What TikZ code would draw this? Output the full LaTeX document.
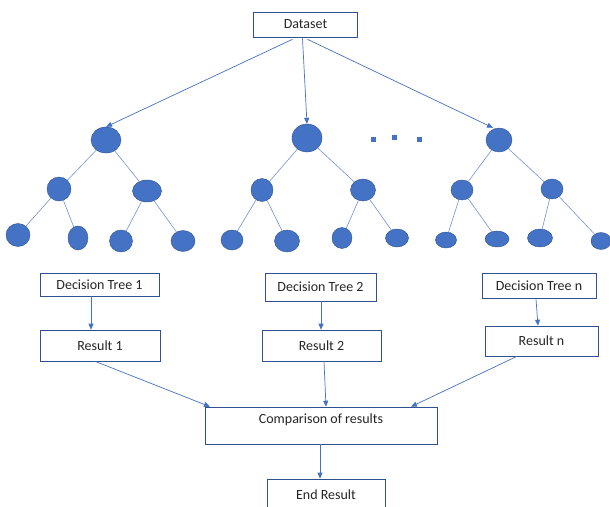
\documentclass[tikz,border=0pt]{standalone}
\usepackage{fontspec}
\setmainfont{Carlito}
\usetikzlibrary{shapes.geometric,arrows.meta}
\definecolor{offblue}{HTML}{4472C4}
\definecolor{boxline}{HTML}{2F528F}
\definecolor{edgeblue}{HTML}{7094D6}

\begin{document}
\begin{tikzpicture}[x=1pt, y=-1pt]

\useasboundingbox (0,0) rectangle (610,506);

\tikzstyle{box} = [rectangle, draw=boxline, fill=white, inner sep=0pt, line width=0.6pt, text=black!85, font=\fontsize{14}{16}\selectfont]
\tikzstyle{ball} = [ellipse, draw=boxline, fill=offblue, inner sep=0pt, line width=0.4pt]
\tikzstyle{dot} = [rectangle, fill=offblue, inner sep=0pt, minimum size=5pt]
\tikzstyle{arr} = [-{Triangle[length=6pt,width=5pt]}, draw=offblue, line width=0.7pt]
\tikzstyle{br} = [draw=edgeblue, line width=0.6pt]

\node[box, minimum width=104pt, minimum height=25pt] (ds) at (305.5,24.5) {Dataset};

% tree 1
\node[ball, minimum width=30pt, minimum height=26pt] (r1) at (106,140) {};
\node[ball, minimum width=24pt, minimum height=24pt] (a1) at (59,189) {};
\node[ball, minimum width=29pt, minimum height=22pt] (b1) at (147,191) {};
\node[ball, minimum width=24pt, minimum height=23pt] (a1l) at (18,235) {};
\node[ball, minimum width=20pt, minimum height=24pt] (a1r) at (78,238) {};
\node[ball, minimum width=23pt, minimum height=22pt] (b1l) at (121,241) {};
\node[ball, minimum width=24pt, minimum height=21pt] (b1r) at (183,241) {};

% tree 2
\node[ball, minimum width=30pt, minimum height=28pt] (r2) at (307,138) {};
\node[ball, minimum width=22pt, minimum height=23pt] (a2) at (262,190) {};
\node[ball, minimum width=25pt, minimum height=22pt] (b2) at (363,190) {};
\node[ball, minimum width=22pt, minimum height=20pt] (a2l) at (232,240) {};
\node[ball, minimum width=25pt, minimum height=22pt] (a2r) at (287,241) {};
\node[ball, minimum width=20pt, minimum height=21pt] (b2l) at (342,238) {};
\node[ball, minimum width=23pt, minimum height=18pt] (b2r) at (397,238) {};

% tree n
\node[ball, minimum width=26pt, minimum height=24pt] (r3) at (499,140) {};
\node[ball, minimum width=22pt, minimum height=20pt] (a3) at (462,190) {};
\node[ball, minimum width=22pt, minimum height=20pt] (b3) at (552,189) {};
\node[ball, minimum width=21pt, minimum height=16pt] (a3l) at (446,240) {};
\node[ball, minimum width=24pt, minimum height=16pt] (a3r) at (497,239) {};
\node[ball, minimum width=25pt, minimum height=18pt] (b3l) at (540,238) {};
\node[ball, minimum width=20pt, minimum height=17pt] (b3r) at (601,241) {};

\node[dot] (d1) at (373,139) {};
\node[dot] (d2) at (394,137) {};
\node[dot] (d3) at (419,139) {};

\node[box, minimum width=119pt, minimum height=23pt] (c1) at (99.5,284.5) {Decision Tree 1};
\node[box, minimum width=111pt, minimum height=28pt] (c2) at (320.5,287) {Decision Tree 2};
\node[box, minimum width=114pt, minimum height=25pt] (c3) at (539,285.5) {Decision Tree n};

\node[box, minimum width=120pt, minimum height=31pt] (e1) at (100,345.5) {Result 1};
\node[box, minimum width=119pt, minimum height=31pt] (e2) at (321.5,345.5) {Result 2};
\node[box, minimum width=113pt, minimum height=30pt] (e3) at (541.5,341) {Result n};

\node[box, minimum width=232pt, minimum height=37pt, text depth=13pt] (cmp) at (321,425.5) {Comparison of results};
\node[box, minimum width=118pt, minimum height=32pt] (end) at (326,495) {End Result};

\foreach \r/\a/\b in {r1/a1/b1, r2/a2/b2, r3/a3/b3} {
  \draw[br] (\r) -- (\a);
  \draw[br] (\r) -- (\b);
  \draw[br] (\a) -- (\a l);
  \draw[br] (\a) -- (\a r);
  \draw[br] (\b) -- (\b l);
  \draw[br] (\b) -- (\b r);
}

\draw[arr] ([xshift=-13pt, yshift=-2pt]ds.south) -- (r1.north);
\draw[arr] ([xshift=-3pt, yshift=-1pt]ds.south) -- (r2.north);
\draw[arr] ([xshift=2pt, yshift=-2pt]ds.south) -- ([xshift=-6pt]r3.north);

\draw[arr] ([xshift=-8.5pt]c1.south) -- ([xshift=-9pt]e1.north);
\draw[arr] ([xshift=0.5pt]c2.south) -- ([xshift=-0.5pt]e2.north);
\draw[arr] ([xshift=-3pt, yshift=-1pt]c3.south) -- ([xshift=-3.5pt]e3.north);

\draw[arr] ([xshift=-5pt]e1.south) -- ([xshift=-111pt]cmp.north);
\draw[arr] ([xshift=2.5pt]e2.south) -- ([xshift=5pt]cmp.north);
\draw[arr] ([xshift=-24.5pt]e3.south) -- ([xshift=90pt]cmp.north);

\draw[arr] ([xshift=-1pt]cmp.south) -- ([xshift=-6pt]end.north);

\end{tikzpicture}
\end{document}
